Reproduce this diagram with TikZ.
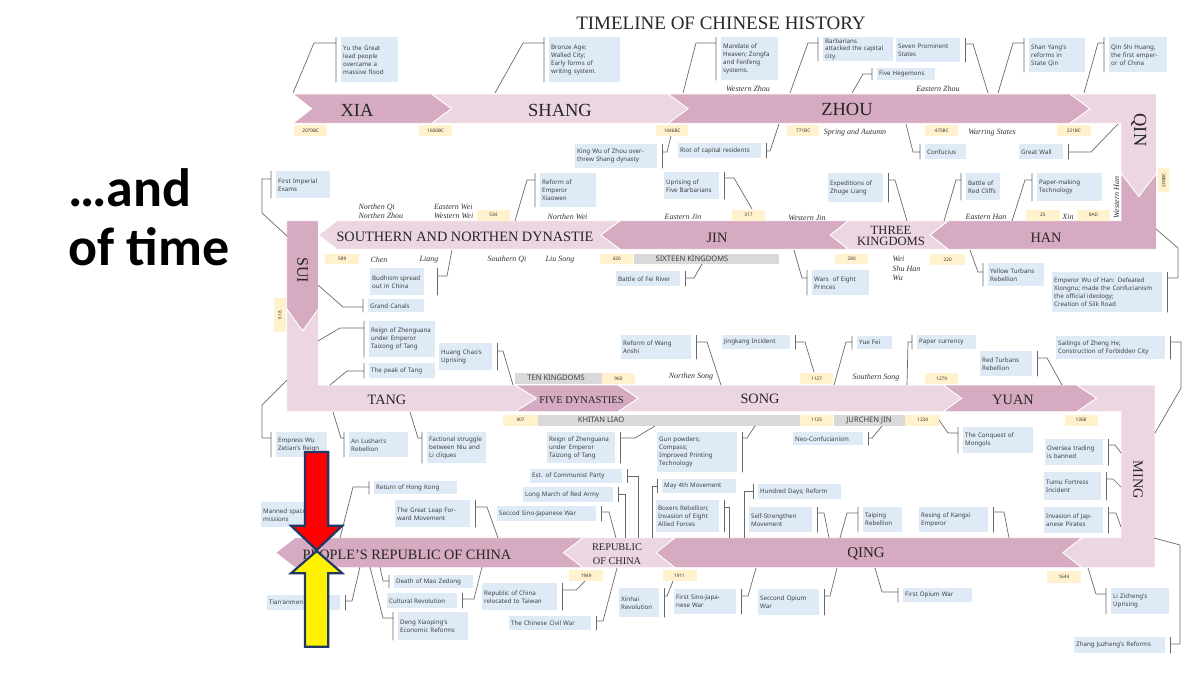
\documentclass[tikz,border=0pt]{standalone}
\usepackage{fontspec}
\setmainfont{Liberation Serif}
\newfontfamily\notefont{Noto Sans}
\newfontfamily\slidefont{Carlito}

\definecolor{hdark}{RGB}{214,170,193}
\definecolor{hlight}{RGB}{236,214,226}
\definecolor{noteblue}{RGB}{222,234,246}
\definecolor{yearyellow}{RGB}{255,242,204}
\definecolor{kgray}{RGB}{217,217,217}
\definecolor{leadgray}{RGB}{105,105,105}
\definecolor{navy}{RGB}{31,56,100}

\begin{document}
\begin{tikzpicture}[x=1pt, y=-1pt,
    dark/.style={fill=hdark, draw=white, line width=0.8pt},
    light/.style={fill=hlight, draw=white, line width=0.8pt},
    era/.style={text=black!85, align=center, font=\fontsize{14.3}{12}\selectfont},
    dyn/.style={text=black!80, align=left, font=\itshape\fontsize{8}{9.5}\selectfont},
    notebox/.style={fill=noteblue, anchor=north west, align=left, inner xsep=2pt, inner ysep=1pt,
        text=black!75, font=\notefont\fontsize{6.2}{8}\selectfont,
        execute at begin node={\hyphenpenalty=10000\relax}},
    yearbox/.style={fill=yearyellow, anchor=north west, inner sep=0pt, text=black!80,
        font=\notefont\fontsize{4.7}{5}\selectfont},
    kbar/.style={fill=kgray, anchor=north west, inner sep=0pt},
    ktext/.style={text=black!75, font=\notefont\fontsize{7.6}{8}\selectfont},
    leader/.style={draw=leadgray, line width=0.7pt},
    bigarrow/.style={draw=navy, line width=2.2pt, line join=miter}]

  \useasboundingbox (0,0) rectangle (1200,675);

  % left slide text
  \node[anchor=base west, font=\slidefont\bfseries\fontsize{54}{58}\selectfont] (andtxt) at (65,206) {…and};
  \node[anchor=base west, font=\slidefont\bfseries\fontsize{54}{58}\selectfont] (timetxt) at (65,265) {of time};

  \node[text=black!85, font=\fontsize{19}{20}\selectfont] (title) at (721,23) {TIMELINE OF CHINESE HISTORY};

  % row 1: Xia to Qin
  \draw[dark]  (293,94) -- (431.7,94) -- (451.7,108.7) -- (431.7,123.3) -- (293,123.3) -- (311.7,108.7) -- cycle;
  \draw[light] (431.7,94) -- (668.3,94) -- (688.3,108.7) -- (668.3,123.3) -- (431.7,123.3) -- (451.7,108.7) -- cycle;
  \draw[dark]  (668.3,94) -- (1070,94) -- (1090,108.7) -- (1070,123.3) -- (668.3,123.3) -- (688.3,108.7) -- cycle;
  \draw[light] (1070,94) -- (1156.5,94) -- (1156.5,173.3) -- (1138.8,196.7) -- (1121,173.3) -- (1121,123.3) -- (1070,123.3) -- (1090,108.7) -- cycle;
  % row 2: Han to Sui
  \draw[dark]  (1121,173.3) -- (1138.8,196.7) -- (1156.5,173.3) -- (1156.5,249.3) -- (948.3,249.3) -- (930,235) -- (948.3,220.7) -- (1121,220.7) -- cycle;
  \draw[light] (948.3,220.7) -- (930,235) -- (948.3,249.3) -- (848.3,249.3) -- (830,235) -- (848.3,220.7) -- cycle;
  \draw[dark]  (848.3,220.7) -- (830,235) -- (848.3,249.3) -- (620,249.3) -- (600.7,235) -- (620,220.7) -- cycle;
  \draw[light] (620,220.7) -- (600.7,235) -- (620,249.3) -- (337,249.3) -- (318.5,235) -- (337,220.7) -- cycle;
  \draw[dark]  (286.7,220.7) -- (318.5,220.7) -- (318.5,309) -- (302.6,331) -- (286.7,309) -- cycle;
  % row 3: Tang to Ming
  \draw[light] (286.7,309) -- (302.6,331) -- (318.5,309) -- (318.5,385) -- (515,385) -- (536.7,398.3) -- (515,411.7) -- (286.7,411.7) -- cycle;
  \draw[dark]  (515,385) -- (618.3,385) -- (638.3,398.3) -- (618.3,411.7) -- (515,411.7) -- (536.7,398.3) -- cycle;
  \draw[light] (618.3,385) -- (943.3,385) -- (961.7,398.3) -- (943.3,411.7) -- (618.3,411.7) -- (638.3,398.3) -- cycle;
  \draw[dark]  (943.3,385) -- (1076.7,385) -- (1096.7,398.3) -- (1076.7,411.7) -- (943.3,411.7) -- (961.7,398.3) -- cycle;
  \draw[light] (1076.7,385) -- (1155,385) -- (1155,567.7) -- (1081.7,567.7) -- (1062.7,552.7) -- (1081.7,537.7) -- (1121,537.7) -- (1121,411.7) -- (1076.7,411.7) -- (1096.7,398.3) -- cycle;
  % row 4: Qing to PRC
  \draw[dark]  (1081.7,537.7) -- (1062.7,552.7) -- (1081.7,567.7) -- (675,567.7) -- (656,552.7) -- (675,537.7) -- cycle;
  \draw[light] (675,537.7) -- (656,552.7) -- (675,567.7) -- (583,567.7) -- (563.3,552.7) -- (583,537.7) -- cycle;
  \draw[dark]  (583,537.7) -- (563.3,552.7) -- (583,567.7) -- (295,567.7) -- (275.7,552.7) -- (295,537.7) -- cycle;

  % dynasty names
  \node[era, font=\fontsize{18.5}{19}\selectfont] (xia) at (357,110) {XIA};
  \node[era, font=\fontsize{18.5}{19}\selectfont] (shang) at (560,110) {SHANG};
  \node[era, font=\fontsize{18.5}{19}\selectfont] (zhou) at (847,109.5) {ZHOU};
  \node[era, font=\fontsize{18.5}{19}\selectfont, rotate=-90] (qin) at (1138.8,130) {QIN};
  \node[era] (han) at (1046,238) {HAN};
  \node[era, font=\fontsize{12.6}{11.3}\selectfont] (threek) at (891,236) {THREE\\KINGDOMS};
  \node[era] (jin) at (717,238) {JIN};
  \node[era] (southnorth) at (465,237) {SOUTHERN AND NORTHEN DYNASTIE};
  \node[era, font=\fontsize{16}{16}\selectfont, rotate=-90] (sui) at (302.6,270) {SUI};
  \node[era] (tang) at (387,400) {TANG};
  \node[era, font=\fontsize{10.5}{11}\selectfont] (fived) at (581.5,400) {FIVE DYNASTIES};
  \node[era] (song) at (760,399) {SONG};
  \node[era] (yuan) at (1013,400) {YUAN};
  \node[era, rotate=-90] (ming) at (1138,480) {MING};
  \node[era, font=\fontsize{15}{15}\selectfont] (qing) at (866,554) {QING};
  \node[era, font=\fontsize{10.3}{13.3}\selectfont] (roc) at (617,554) {REPUBLIC\\OF CHINA};
  \node[era] (prc) at (407,555) {PEOPLE'S REPUBLIC OF CHINA};

  % sub-periods
  \node[dyn] (wzhou) at (748,89) {Western Zhou};
  \node[dyn] (ezhou) at (938,89) {Eastern Zhou};
  \node[dyn] (spring) at (855,132.5) {Spring and Autumn};
  \node[dyn] (warring) at (992,132.5) {Warring States};
  \node[dyn, anchor=west, font=\itshape\fontsize{8}{9.3}\selectfont] (nqi) at (355,211.3) {Northen Qi\\Northen Zhou};
  \node[dyn, anchor=west, font=\itshape\fontsize{8}{9.3}\selectfont] (ewei) at (430.5,211.3) {Eastern Wei\\Western Wei};
  \node[dyn, anchor=west] (nwei) at (544,216.5) {Northen Wei};
  \node[dyn] (ejin) at (683,217) {Eastern Jin};
  \node[dyn] (wjin) at (807,217.5) {Western Jin};
  \node[dyn] (ehan) at (986,217) {Eastern Han};
  \node[dyn] (xin) at (1068,217) {Xin};
  \node[dyn, rotate=90] (whan) at (1116.5,197.5) {Western Han};
  \node[dyn] (chen) at (379,259.5) {Chen};
  \node[dyn] (liang) at (429,259.5) {Liang};
  \node[dyn] (sqi) at (507,259.5) {Southern Qi};
  \node[dyn] (liusong) at (560,259.5) {Liu Song};
  \node[dyn, anchor=west, font=\itshape\fontsize{8}{9.7}\selectfont] (wei) at (889,268.7) {Wei\\Shu Han\\Wu};
  \node[dyn] (nsong) at (691,377) {Northen Song};
  \node[dyn] (ssong) at (876,378) {Southern Song};

  % parallel kingdoms
  \node[kbar, minimum width=145pt, minimum height=10.7pt] (sixteenbar) at (633.3,253.3) {};
  \node[ktext] (sixteen) at (692,258.7) {SIXTEEN KINGDOMS};
  \node[kbar, minimum width=86.7pt, minimum height=11.7pt] (tenbar) at (515,372.3) {};
  \node[ktext] (tenk) at (556,378.2) {TEN KINGDOMS};
  \node[kbar, minimum width=262.3pt, minimum height=11.4pt] (liaobar) at (537.7,414.3) {};
  \node[ktext] (liao) at (601,420) {KHITAN LIAO};
  \node[kbar, minimum width=71.7pt, minimum height=11.4pt] (jurchenbar) at (833.3,414.3) {};
  \node[ktext] (jurchen) at (869,420) {JURCHEN JIN};

  % years
  \node[yearbox, minimum width=33pt, minimum height=11pt] (y2070) at (294,125) {2070BC};
  \node[yearbox, minimum width=33pt, minimum height=11pt] (y1600) at (419,125) {1600BC};
  \node[yearbox, minimum width=32pt, minimum height=11pt] (y1046) at (656,125) {1046BC};
  \node[yearbox, minimum width=32pt, minimum height=11pt] (y771) at (787,125) {771BC};
  \node[yearbox, minimum width=33pt, minimum height=11pt] (y475) at (925,125) {475BC};
  \node[yearbox, minimum width=34pt, minimum height=11pt] (y221) at (1056.7,125) {221BC};
  \node[yearbox, anchor=center, rotate=90, minimum width=24pt, minimum height=11pt] (y206) at (1163.8,180.3) {206BC};
  \node[yearbox, minimum width=33pt, minimum height=11.5pt] (y534) at (476.7,209.3) {534};
  \node[yearbox, minimum width=33pt, minimum height=11.5pt] (y317) at (731.7,209.3) {317};
  \node[yearbox, minimum width=34pt, minimum height=11.5pt] (y25) at (1025.7,209.3) {25};
  \node[yearbox, minimum width=33pt, minimum height=11.5pt] (y8) at (1076.7,209.3) {8AD};
  \node[yearbox, minimum width=34pt, minimum height=10.5pt] (y589) at (325,253.7) {589};
  \node[yearbox, minimum width=33pt, minimum height=10.7pt] (y420) at (600,253.3) {420};
  \node[yearbox, minimum width=33pt, minimum height=10.7pt] (y280) at (835,253.3) {280};
  \node[yearbox, minimum width=35pt, minimum height=10.5pt] (y220) at (930,254) {220};
  \node[yearbox, anchor=center, rotate=90, minimum width=34pt, minimum height=12pt] (y618) at (280,315) {618};
  \node[yearbox, minimum width=33pt, minimum height=11.7pt] (y960) at (601.7,372.3) {960};
  \node[yearbox, minimum width=33pt, minimum height=11.7pt] (y1127) at (800,372.3) {1127};
  \node[yearbox, minimum width=33pt, minimum height=11.7pt] (y1279) at (925,372.3) {1279};
  \node[yearbox, minimum width=34.7pt, minimum height=11.4pt] (y907) at (503,414.3) {907};
  \node[yearbox, minimum width=33pt, minimum height=11.4pt] (y1125) at (800,414.3) {1125};
  \node[yearbox, minimum width=35pt, minimum height=11.4pt] (y1234) at (905,414.3) {1234};
  \node[yearbox, minimum width=33pt, minimum height=11.4pt] (y1368) at (1064.3,414.3) {1368};
  \node[yearbox, minimum width=34pt, minimum height=11pt] (y1949) at (569,570) {1949};
  \node[yearbox, minimum width=34pt, minimum height=11pt] (y1911) at (662.3,570) {1911};
  \node[yearbox, minimum width=34pt, minimum height=11.3pt] (y1644) at (1046.7,571) {1644};

  % events, row 1
  \node[notebox, text width=53pt, minimum height=45pt] (yu) at (341,37) {Yu the Great\\lead people\\overcame a\\massive flood};
  \node[notebox, text width=67pt, minimum height=45pt] (bronze) at (549,37) {Bronze Age;\\Walled City;\\Early forms of\\writing system.};
  \node[notebox, text width=53pt, minimum height=43pt] (mandate) at (721,37) {Mandate of\\Heaven; Zongfa\\and Fenfeng\\systems.};
  \node[notebox, text width=66pt, minimum height=24pt, font=\notefont\fontsize{6.2}{7.6}\selectfont] (barbarians) at (823,37) {Barbarians\\attacked the capital\\city.};
  \node[notebox, text width=54pt, minimum height=12pt] (hegemons) at (877,68) {Five Hegemons};
  \node[notebox, text width=60pt, minimum height=24pt] (seven) at (896,38) {Seven Prominent\\States};
  \node[notebox, text width=52pt, minimum height=34pt] (shangyang) at (1029,38) {Shan Yang's\\reforms in\\State Qin};
  \node[notebox, text width=54pt, minimum height=35pt] (qinshi) at (1109,37) {Qin Shi Huang,\\the first emper-\\or of China};
  \node[notebox, text width=78pt, minimum height=24pt] (kingwu) at (575,144) {King Wu of Zhou over-\\threw Shang dynasty};
  \node[notebox, text width=79pt, minimum height=15pt] (riot) at (678,143) {Riot of capital residents};
  \node[notebox, text width=37pt, minimum height=15pt] (confucius) at (925,144) {Confucius};
  \node[notebox, text width=40pt, minimum height=15pt] (wall) at (1019,144) {Great Wall};

  % events, row 2
  \node[notebox, text width=50pt, minimum height=27pt] (exams) at (276,171) {First Imperial\\Exams};
  \node[notebox, text width=52pt, minimum height=34pt] (xiaowen) at (540,173) {Reform of\\Emperor\\Xiaowen};
  \node[notebox, text width=51pt, minimum height=27pt] (fivebarb) at (664,172) {Uprising of\\Five Barbarians};
  \node[notebox, text width=51pt, minimum height=29pt] (zhuge) at (828,173) {Expeditions of\\Zhuge Liang};
  \node[notebox, text width=30pt, minimum height=27pt] (redcliffs) at (966,173) {Battle of\\Red Cliffs};
  \node[notebox, text width=61pt, minimum height=28pt] (papermaking) at (1037,173) {Paper-making\\Technology};
  \node[notebox, text width=50pt, minimum height=27pt] (budhism) at (370,268) {Budhism spread\\out in China};
  \node[notebox, text width=52pt, minimum height=13pt] (canals) at (368,299) {Grand Canals};
  \node[notebox, text width=60pt, minimum height=15pt] (feiriver) at (616,271) {Battle of Fei River};
  \node[notebox, text width=53pt, minimum height=25pt] (princes) at (812,270) {Wars~ of Eight\\Princes};
  \node[notebox, text width=52pt, minimum height=23pt] (yellowturbans) at (988,263) {Yellow Turbans\\Rebellion};
  \node[notebox, text width=106pt, minimum height=40pt] (wuofhan) at (1052,272) {Emperor Wu of Han: Defeated\\Xiongnu; made the Confucianism\\the official ideology;\\Creation of Silk Road};

  % events, row 3
  \node[notebox, text width=62pt, minimum height=36pt] (zhenguanA) at (369,321) {Reign of Zhenguana\\under Emperor\\Taizong of Tang};
  \node[notebox, text width=62pt, minimum height=15pt] (peaktang) at (369,363) {The peak of Tang};
  \node[notebox, text width=49pt, minimum height=27pt] (huangchao) at (439,343) {Huang Chao's\\Uprising};
  \node[notebox, text width=66pt, minimum height=24pt] (wanganshi) at (621,335) {Reform of Wang\\Anshi};
  \node[notebox, text width=64pt, minimum height=14pt] (jingkang) at (722,335) {Jingkang Incident};
  \node[notebox, text width=31pt, minimum height=13pt] (yuefei) at (857,336) {Yue Fei};
  \node[notebox, text width=55pt, minimum height=14pt] (papercur) at (917,335) {Paper currency};
  \node[notebox, text width=48pt, minimum height=25pt] (redturbans) at (980,351) {Red Turbans\\Rebellion};
  \node[notebox, text width=105pt, minimum height=23pt] (zhenghe) at (1056,336) {Sailings of Zheng He;\\Construction of Forbidden City};
  \node[notebox, text width=47pt, minimum height=25pt] (wuzetian) at (276,432) {Empress Wu\\Zetian's Reign};
  \node[notebox, text width=55pt, minimum height=25pt] (anlushan) at (349,432) {An Lushan's\\Rebellion};
  \node[notebox, text width=55pt, minimum height=31pt] (niuli) at (427,432) {Factional struggle\\between Niu and\\Li cliques};
  \node[notebox, text width=64pt, minimum height=31pt] (zhenguanB) at (547,432) {Reign of Zhenguana\\under Emperor\\Taizong of Tang};
  \node[notebox, text width=76pt, minimum height=40pt] (inventions) at (657,432) {Gun powders;\\Compass;\\Improved Printing\\Technology};
  \node[notebox, text width=66pt, minimum height=13pt] (neoconf) at (793,432) {Neo-Confucianism};
  \node[notebox, text width=66pt, minimum height=26pt] (mongols) at (963,427) {The Conquest of\\Mongols};
  \node[notebox, text width=54pt, minimum height=26pt] (oversea) at (1045,439) {Oversea trading\\is banned};
  \node[notebox, text width=53pt, minimum height=28pt] (tumu) at (1044,472) {Tumu Fortress\\Incident};
  \node[notebox, text width=55pt, minimum height=26pt] (pirates) at (1044,507) {Invasion of Jap-\\anese Pirates};

  % events, row 4
  \node[notebox, text width=88pt, minimum height=14pt] (cpc) at (530,469) {Est. of Communist Party};
  \node[notebox, text width=86pt, minimum height=15pt] (longmarch) at (523,487) {Long March of Red Army};
  \node[notebox, text width=95pt, minimum height=15pt] (sinojapB) at (497,506) {Seccod Sino-Japanese War};
  \node[notebox, text width=70pt, minimum height=14pt] (mayfourth) at (662,479) {May 4th Movement};
  \node[notebox, text width=59pt, minimum height=32pt] (boxers) at (656,500) {Boxers Rebellion;\\Invasion of Eight\\Allied Forces};
  \node[notebox, text width=79pt, minimum height=15pt] (hundreddays) at (758,484) {Hundred Days; Reform};
  \node[notebox, text width=59pt, minimum height=25pt] (selfstr) at (749,507) {Self-Strengthen\\Movement};
  \node[notebox, text width=35pt, minimum height=25pt] (taiping) at (863,507) {Taiping\\Rebellion};
  \node[notebox, text width=65pt, minimum height=25pt] (kangxi) at (919,507) {Resing of Kangxi\\Emperor};
  \node[notebox, text width=79pt, minimum height=13pt] (hongkong) at (374,481) {Return of Hong Kong};
  \node[notebox, text width=71pt, minimum height=27pt] (leap) at (395,500) {The Great Leap For-\\ward Movement};
  \node[notebox, text width=57pt, minimum height=25pt] (space) at (261,502) {Manned space\\missions};
  \node[notebox, text width=75pt, minimum height=13pt] (mao) at (394,575) {Death of Mao Zedong};
  \node[notebox, text width=66pt, minimum height=15pt] (cultrev) at (387,593) {Cultural Revolution};
  \node[notebox, text width=66pt, minimum height=28pt] (deng) at (398,612) {Deng Xiaoping's\\Economic Reforms};
  \node[notebox, text width=69pt, minimum height=15pt] (tiananmen) at (267,595) {Tian'anmen};
  \node[notebox, text width=71pt, minimum height=27pt] (taiwan) at (482,583) {Republic of China\\relocated to Taiwan};
  \node[notebox, text width=78pt, minimum height=14pt] (civilwar) at (509,616) {The Chinese Civil War};
  \node[notebox, text width=36pt, minimum height=29pt] (xinhai) at (619,588) {Xinhai\\Revolution};
  \node[notebox, text width=58pt, minimum height=25pt] (sinojapA) at (674,589) {First Sino-Japa-\\nese War};
  \node[notebox, text width=57pt, minimum height=26pt] (opiumB) at (758,589) {Seccond Opium\\War};
  \node[notebox, text width=65pt, minimum height=14pt] (opiumA) at (903,588) {First Opium War};
  \node[notebox, text width=54pt, minimum height=26pt] (lizicheng) at (1111,588) {Li Zicheng's\\Uprising};
  \node[notebox, text width=87pt, minimum height=16pt] (zhangjz) at (1074,637) {Zhang Juzheng's Reforms};

  % leaders with brackets
  \draw[leader] (293,93) -- (314,43) -- (336,43) ([xshift=-5pt]yu.north west) -- ([xshift=-5pt]yu.south west);
  \draw[leader] (495,93) -- (523,43) -- (544,43) ([xshift=-5pt]bronze.north west) -- ([xshift=-5pt]bronze.south west);
  \draw[leader] (683,93) -- (696,43) -- (716,43) ([xshift=-5pt]mandate.north west) -- ([xshift=-5pt]mandate.south west);
  \draw[leader] (790,93) -- (808,43) -- (818,43) ([xshift=-5pt]barbarians.north west) -- ([xshift=-5pt]barbarians.south west);
  \draw[leader] (852,93) -- (863,74) -- (872,74) ([xshift=-5pt]hegemons.north west) -- ([xshift=-5pt]hegemons.south west);
  \draw[leader] (988,93) -- (973,44) -- (965,44) ([xshift=5pt]seven.north east) -- ([xshift=5pt]seven.south east);
  \draw[leader] (998,93) -- (1013,43) -- (1024,43) ([xshift=-5pt]shangyang.north west) -- ([xshift=-5pt]shangyang.south west);
  \draw[leader] (1084,93) -- (1098,43) -- (1104,43) ([xshift=-5pt]qinshi.north west) -- ([xshift=-5pt]qinshi.south west);
  \draw[leader] (671,136) -- (667,152) -- (662,152) ([xshift=5pt]kingwu.north east) -- ([xshift=5pt]kingwu.south east);
  \draw[leader] (779,124) -- (770,151) -- (766,151) ([xshift=5pt]riot.north east) -- ([xshift=5pt]riot.south east);
  \draw[leader] (906,124) -- (913,152) -- (920,152) ([xshift=-5pt]confucius.north west) -- ([xshift=-5pt]confucius.south west);
  \draw[leader] (1118,124) -- (1091,152) -- (1068,152) ([xshift=5pt]wall.north east) -- ([xshift=5pt]wall.south east);

  \draw[leader] (287,236) -- (262,213) -- (262,179) -- (271,179) ([xshift=-5pt]exams.north west) -- ([xshift=-5pt]exams.south west);
  \draw[leader] (515,221) -- (527,180) -- (535,180) ([xshift=-5pt]xiaowen.north west) -- ([xshift=-5pt]xiaowen.south west);
  \draw[leader] (752,209) -- (734,178) -- (724,178) ([xshift=5pt]fivebarb.north east) -- ([xshift=5pt]fivebarb.south east);
  \draw[leader] (907,221) -- (895,180) -- (888,180) ([xshift=5pt]zhuge.north east) -- ([xshift=5pt]zhuge.south east);
  \draw[leader] (944,221) -- (956,180) -- (961,180) ([xshift=-5pt]redcliffs.north west) -- ([xshift=-5pt]redcliffs.south west);
  \draw[leader] (1012,221) -- (1025,180) -- (1032,180) ([xshift=-5pt]papermaking.north west) -- ([xshift=-5pt]papermaking.south west);
  \draw[leader] (452,250) -- (447,276) -- (437,276) ([xshift=13pt]budhism.north east) -- ([xshift=13pt]budhism.south east);
  \draw[leader] (318,285) -- (343,307) -- (363,307) ([xshift=-5pt]canals.north west) -- ([xshift=-5pt]canals.south west);
  \draw[leader] (702,264) -- (694,278) -- (685,278) ([xshift=5pt]feiriver.north east) -- ([xshift=5pt]feiriver.south east);
  \draw[leader] (794,250) -- (802,278) -- (807,278) ([xshift=-5pt]princes.north west) -- ([xshift=-5pt]princes.south west);
  \draw[leader] (970,250) -- (978,272) -- (983,272) ([xshift=-5pt]yellowturbans.north west) -- ([xshift=-5pt]yellowturbans.south west);
  \draw[leader] (1156,229) -- (1178,248) -- (1178,278) -- (1167,278) ([xshift=5pt]wuofhan.north east) -- ([xshift=5pt]wuofhan.south east);

  \draw[leader] (318,341) -- (340,328) -- (364,328) ([xshift=-5pt]zhenguanA.north west) -- ([xshift=-5pt]zhenguanA.south west);
  \draw[leader] (330,385) -- (347,371) -- (364,371) ([xshift=-5pt]peaktang.north west) -- ([xshift=-5pt]peaktang.south west);
  \draw[leader] (513,385) -- (503,351) -- (497,351) ([xshift=5pt]huangchao.north east) -- ([xshift=5pt]huangchao.south east);
  \draw[leader] (721,385) -- (707,342) -- (696,342) ([xshift=5pt]wanganshi.north east) -- ([xshift=5pt]wanganshi.south east);
  \draw[leader] (814,372) -- (805,342) -- (795,342) ([xshift=5pt]jingkang.north east) -- ([xshift=5pt]jingkang.south east);
  \draw[leader] (834,385) -- (846,342) -- (852,342) ([xshift=-5pt]yuefei.north west) -- ([xshift=-5pt]yuefei.south west);
  \draw[leader] (907,385) -- (908,342) -- (912,342) ([xshift=-5pt]papercur.north west) -- ([xshift=-5pt]papercur.south west);
  \draw[leader] (1062,385) -- (1047,358) -- (1037,358) ([xshift=5pt]redturbans.north east) -- ([xshift=5pt]redturbans.south east);
  \draw[leader] (1155,433) -- (1181,388) -- (1181,342) -- (1170,342) ([xshift=5pt]zhenghe.north east) -- ([xshift=5pt]zhenghe.south east);
  \draw[leader] (287,380) -- (262,405) -- (262,438) -- (271,438) ([xshift=-5pt]wuzetian.north west) -- ([xshift=-5pt]wuzetian.south west);
  \draw[leader] (333,412) -- (341,438) -- (344,438) ([xshift=-5pt]anlushan.north west) -- ([xshift=-5pt]anlushan.south west);
  \draw[leader] (410,412) -- (418,438) -- (422,438) ([xshift=-5pt]niuli.north west) -- ([xshift=-5pt]niuli.south west);
  \draw[leader] (655,426) -- (635,438) -- (620,438) ([xshift=5pt]zhenguanB.north east) -- ([xshift=5pt]zhenguanB.south east);
  \draw[leader] (755,426) -- (747,438) -- (742,438) ([xshift=5pt]inventions.north east) -- ([xshift=5pt]inventions.south east);
  \draw[leader] (882,426) -- (872,438) -- (868,438) ([xshift=5pt]neoconf.north east) -- ([xshift=5pt]neoconf.south east);
  \draw[leader] (939,420) -- (948,433) -- (958,433) ([xshift=-5pt]mongols.north west) -- ([xshift=-5pt]mongols.south west);
  \draw[leader] (1121,453) -- (1115,445) -- (1108,445) ([xshift=5pt]oversea.north east) -- ([xshift=5pt]oversea.south east);
  \draw[leader] (1121,487) -- (1113,479) -- (1106,479) ([xshift=5pt]tumu.north east) -- ([xshift=5pt]tumu.south east);
  \draw[leader] (1121,527) -- (1116,513) -- (1108,513) ([xshift=5pt]pirates.north east) -- ([xshift=5pt]pirates.south east);

  \draw[leader] (638,538) -- (638,476) -- (627,476) ([xshift=5pt]cpc.north east) -- ([xshift=5pt]cpc.south east);
  \draw[leader] (625,538) -- (625,494) -- (618,494) ([xshift=5pt]longmarch.north east) -- ([xshift=5pt]longmarch.south east);
  \draw[leader] (616,538) -- (609,512) -- (601,512) ([xshift=5pt]sinojapB.north east) -- ([xshift=5pt]sinojapB.south east);
  \draw[leader] (652,538) -- (652,486) -- (657,486) ([xshift=-5pt]mayfourth.north west) -- ([xshift=-5pt]mayfourth.south west);
  \draw[leader] (729,538) -- (729,507) -- (724,507) ([xshift=5pt]boxers.north east) -- ([xshift=5pt]boxers.south east);
  \draw[leader] (744,538) -- (744,491) -- (753,491) ([xshift=-5pt]hundreddays.north west) -- ([xshift=-5pt]hundreddays.south west);
  \draw[leader] (829,538) -- (824,513) -- (817,513) ([xshift=5pt]selfstr.north east) -- ([xshift=5pt]selfstr.south east);
  \draw[leader] (840,538) -- (847,513) -- (858,513) ([xshift=-5pt]taiping.north west) -- ([xshift=-5pt]taiping.south west);
  \draw[leader] (1009,538) -- (1004,512) -- (993,512) ([xshift=5pt]kangxi.north east) -- ([xshift=5pt]kangxi.south east);
  \draw[leader] (340,538) -- (353,487) -- (369,487) ([xshift=-5pt]hongkong.north west) -- ([xshift=-5pt]hongkong.south west);
  \draw[leader] (498,538) -- (487,507) -- (475,507) ([xshift=5pt]leap.north east) -- ([xshift=5pt]leap.south east);
  \draw[leader] (380,567) -- (383,581) -- (389,581) ([xshift=-5pt]mao.north west) -- ([xshift=-5pt]mao.south west);
  \draw[leader] (482,567) -- (474,599) -- (462,599) ([xshift=5pt]cultrev.north east) -- ([xshift=5pt]cultrev.south east);
  \draw[leader] (370,567) -- (383,618) -- (393,618) ([xshift=-5pt]deng.north west) -- ([xshift=-5pt]deng.south west);
  \draw[leader] (360,567) -- (352,601) -- (345,601) ([xshift=5pt]tiananmen.north east) -- ([xshift=5pt]tiananmen.south east);
  \draw[leader] (585,581) -- (576,590) -- (562,590) ([xshift=5pt]taiwan.north east) -- ([xshift=5pt]taiwan.south east);
  \draw[leader] (617,568) -- (603,621) -- (596,621) ([xshift=5pt]civilwar.north east) -- ([xshift=5pt]civilwar.south east);
  \draw[leader] (673,581) -- (667,596) -- (664,596) ([xshift=5pt]xinhai.north east) -- ([xshift=5pt]xinhai.south east);
  \draw[leader] (756,568) -- (748,596) -- (741,596) ([xshift=5pt]sinojapA.north east) -- ([xshift=5pt]sinojapA.south east);
  \draw[leader] (837,568) -- (830,596) -- (824,596) ([xshift=5pt]opiumB.north east) -- ([xshift=5pt]opiumB.south east);
  \draw[leader] (875,568) -- (882,592) -- (898,592) ([xshift=-5pt]opiumA.north west) -- ([xshift=-5pt]opiumA.south west);
  \draw[leader] (1088,568) -- (1096,594) -- (1106,594) ([xshift=-5pt]lizicheng.north west) -- ([xshift=-5pt]lizicheng.south west);
  \draw[leader] (1154,538) -- (1180,545) -- (1180,644) -- (1170,644) ([xshift=5pt]zhangjz.north east) -- ([xshift=5pt]zhangjz.south east);

  % the two arrows
  \draw[bigarrow, fill=red] (305,452) -- (328.3,452) -- (328.3,525.7) -- (342.3,525.7) -- (316.7,550) -- (291,525.7) -- (305,525.7) -- cycle;
  \draw[bigarrow, fill=yellow] (305,646.7) -- (328.3,646.7) -- (328.3,573.3) -- (342.3,573.3) -- (316.7,551) -- (291,573.3) -- (305,573.3) -- cycle;
\end{tikzpicture}
\end{document}
